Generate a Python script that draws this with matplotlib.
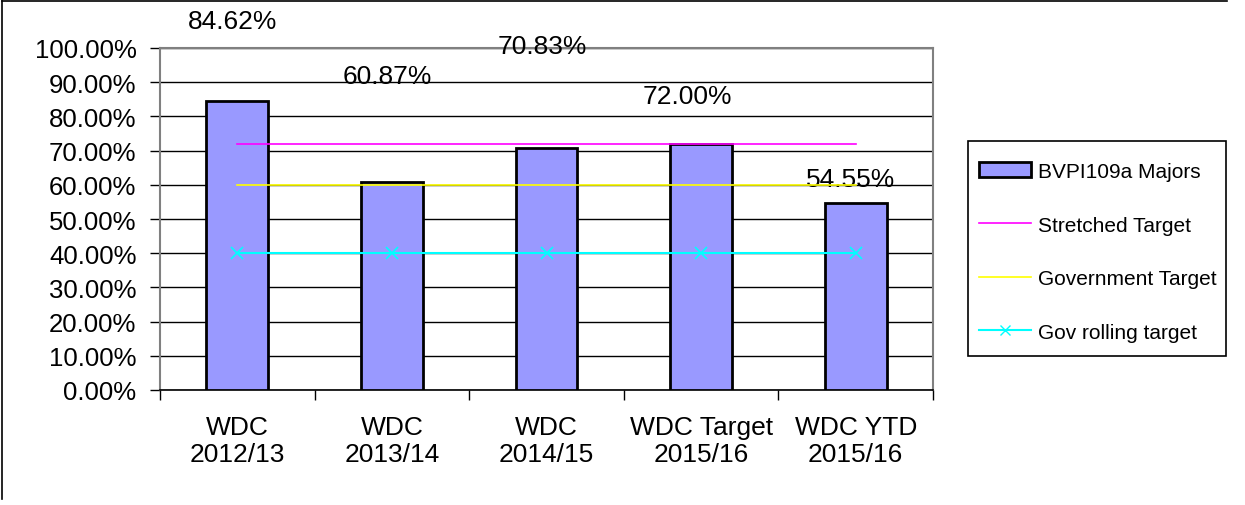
import matplotlib
matplotlib.use('Agg')
import matplotlib.pyplot as plt
from matplotlib.lines import Line2D
from matplotlib.patches import Patch, Rectangle

plt.rcParams['font.family'] = ['Liberation Sans', 'DejaVu Sans']

# данные
categories = ['WDC\n2012/13', 'WDC\n2013/14', 'WDC\n2014/15', 'WDC Target\n2015/16', 'WDC YTD\n2015/16']
majors = [84.62, 60.87, 70.83, 72.00, 54.55]
stretched = [72, 72, 72, 72, 72]
government = [60, 60, 60, 60, 60]
gov_rolling = [40, 40, 40, 40, 40]

# смещения подписей (как в исходной диаграмме)
lbl_dx = [-0.03, -0.03, -0.03, -0.09, -0.03]
lbl_dy = [23.3, 31.0, 29.8, 14.0, 7.2]

fig = plt.figure(figsize=(12.45, 5.06), dpi=100)
ax = fig.add_axes([160/1245, 115/506, 773/1245, 342/506])

x = list(range(len(categories)))
ax.bar(x, majors, width=0.4, color='#9999FF', edgecolor='black', linewidth=2, zorder=3)
ax.plot(x, stretched, color='#FF00FF', lw=1.2, zorder=4)
ax.plot(x, government, color='#FFFF00', lw=1.2, zorder=4)
ax.plot(x, gov_rolling, color='#00FFFF', lw=1.5, marker='x', ms=8, mew=1.2, zorder=4)

for i, v in enumerate(majors):
    ax.text(i + lbl_dx[i], v + lbl_dy[i], '%.2f%%' % v, ha='center', va='center',
            fontsize=19, clip_on=False)

ax.set_xlim(-0.5, 4.5)
ax.set_ylim(0, 100)
ax.set_yticks(range(0, 101, 10))
ax.set_yticklabels(['%.2f%%' % t for t in range(0, 101, 10)], fontsize=18.5)
ax.yaxis.grid(True, color='black', lw=1)
ax.set_axisbelow(True)
ax.set_xticks(x)
ax.set_xticklabels(categories, fontsize=19, linespacing=1.15)
ax.set_xticks([i - 0.5 for i in range(6)], minor=True)
ax.tick_params(axis='x', which='major', length=0, pad=18)
ax.tick_params(axis='x', which='minor', length=7, width=1)
ax.tick_params(axis='y', length=7, width=1, pad=10)
for s in ['top', 'left', 'right']:
    ax.spines[s].set_color('#808080')
    ax.spines[s].set_linewidth(1.5)
ax.spines['bottom'].set_linewidth(1.2)

# легенда
handles = [Patch(facecolor='#9999FF', edgecolor='black', linewidth=2),
           Line2D([], [], color='#FF00FF', lw=1.2),
           Line2D([], [], color='#FFFF00', lw=1.2),
           Line2D([], [], color='#00FFFF', lw=1.5, marker='x', ms=7)]
labels = ['BVPI109a Majors', 'Stretched Target', 'Government Target', 'Gov rolling target']
fig.legend(handles, labels, loc='upper left', bbox_to_anchor=(979/1245, 1 - 163/506),
           fontsize=15, frameon=False, labelspacing=1.66, handlelength=2.5,
           handletextpad=0.35, borderpad=0, borderaxespad=0)
fig.add_artist(Rectangle((968/1245, 1 - 357/506), 258/1245, 215/506, transform=fig.transFigure,
                         fill=False, edgecolor='black', lw=1.2))

# рамка рисунка
fig.add_artist(Line2D([2/1245, 1227/1245], [1 - 2/506, 1 - 2/506], color='black', lw=1.2))
fig.add_artist(Line2D([2/1245, 2/1245], [1 - 2/506, 6/506], color='black', lw=1.2))

fig.savefig('out.png', dpi=100)
